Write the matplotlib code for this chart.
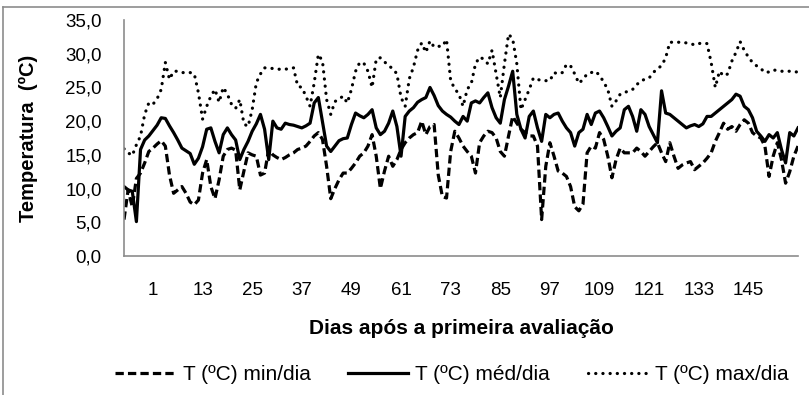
import matplotlib
matplotlib.use("Agg")
import matplotlib.pyplot as plt
from matplotlib.lines import Line2D
from matplotlib.ticker import FuncFormatter

plt.rcParams['font.family'] = ['Liberation Sans', 'DejaVu Sans']

# days after the first evaluation (category axis)
days = list(range(-6, 158))
tick_days = [1, 13, 25, 37, 49, 61, 73, 85, 97, 109, 121, 133, 145]

t_min = [
    5.4, 9.8, 7.3, 11.5, 12.3, 13.8, 15.5, 16.0, 16.6, 17.1,
    16.3, 12.0, 9.3, 9.8, 10.3, 9.3, 8.0, 7.6, 8.3, 12.3,
    14.3, 10.3, 8.5, 11.3, 14.8, 15.8, 16.0, 15.7, 9.8, 12.6,
    15.3, 15.0, 14.8, 12.0, 12.3, 15.8, 15.0, 14.6, 14.3, 14.6,
    15.0, 15.3, 15.8, 16.0, 16.3, 17.0, 17.8, 18.3, 17.3, 13.3,
    8.5, 10.0, 11.3, 12.3, 12.3, 13.0, 13.8, 14.8, 15.3, 16.3,
    18.0, 14.8, 10.0, 12.6, 14.8, 13.3, 14.3, 15.8, 16.8, 17.5,
    18.0, 18.3, 20.0, 18.0, 19.2, 19.5, 12.0, 8.8, 8.6, 15.5,
    18.5, 17.5, 16.3, 15.5, 14.8, 12.3, 16.8, 17.8, 18.5, 18.3,
    17.5, 15.5, 14.8, 17.8, 20.7, 19.7, 18.8, 18.3, 17.8, 17.8,
    16.3, 5.4, 13.3, 16.8, 14.8, 12.6, 12.3, 11.8, 10.3, 7.3,
    6.7, 7.7, 15.3, 16.3, 16.0, 18.3, 17.3, 14.8, 11.6, 14.3,
    16.0, 15.3, 15.3, 15.3, 16.0, 15.5, 14.8, 15.5, 16.2, 16.8,
    15.3, 14.0, 16.8, 14.8, 13.0, 13.5, 13.8, 14.0, 12.8, 13.3,
    13.8, 14.5, 15.3, 17.0, 18.3, 19.7, 18.8, 19.2, 18.5, 19.5,
    20.2, 19.7, 18.3, 17.8, 17.5, 16.3, 11.8, 14.8, 16.8, 14.3,
    10.8, 12.5, 14.8, 16.3,
]

t_med = [
    10.3, 9.8, 9.6, 5.1, 15.8, 17.2, 17.8, 18.6, 19.4, 20.5,
    20.4, 19.3, 18.3, 17.2, 16.0, 15.6, 15.2, 13.6, 14.5, 16.2,
    18.8, 19.0, 17.0, 15.3, 18.0, 19.0, 18.0, 17.2, 14.3, 15.8,
    17.0, 18.5, 19.6, 21.0, 18.8, 14.3, 20.0, 19.0, 18.8, 19.7,
    19.5, 19.4, 19.2, 19.0, 19.3, 19.7, 22.7, 23.5, 19.9, 16.3,
    15.5, 16.3, 17.1, 17.4, 17.5, 19.5, 21.2, 20.8, 20.5, 21.0,
    21.7, 19.0, 18.0, 18.5, 19.7, 21.5, 19.2, 14.8, 20.7, 21.5,
    22.0, 22.8, 23.2, 23.5, 25.0, 23.8, 22.3, 21.5, 21.0, 20.6,
    20.0, 19.5, 20.7, 20.0, 22.7, 23.0, 22.7, 23.5, 24.2, 22.0,
    20.5, 19.7, 23.2, 25.2, 27.4, 21.0, 18.8, 17.5, 20.7, 21.5,
    19.0, 17.0, 21.0, 20.5, 21.0, 21.2, 20.0, 19.0, 18.3, 16.3,
    18.3, 18.8, 21.0, 19.5, 21.2, 21.5, 20.5, 19.2, 17.8, 18.5,
    19.0, 21.7, 22.2, 20.7, 18.5, 21.7, 21.0, 19.2, 18.0, 16.8,
    24.5, 21.2, 21.0, 20.5, 20.0, 19.5, 19.0, 19.3, 19.5, 19.2,
    19.6, 20.7, 20.7, 21.2, 21.7, 22.2, 22.7, 23.2, 24.0, 23.7,
    22.2, 21.7, 20.5, 18.5, 17.8, 17.0, 18.0, 17.5, 18.3, 15.8,
    13.8, 18.3, 17.8, 19.0,
]

t_max = [
    15.9, 15.3, 14.9, 16.5, 17.8, 21.0, 22.7, 22.5, 23.3, 24.7,
    28.7, 26.2, 27.4, 27.4, 27.2, 27.2, 27.2, 27.0, 24.2, 20.3,
    22.2, 23.7, 24.7, 22.8, 25.0, 24.0, 22.5, 21.9, 23.2, 19.6,
    19.2, 21.7, 25.7, 27.0, 27.9, 27.9, 27.8, 27.7, 27.7, 27.7,
    27.8, 27.9, 25.2, 25.0, 23.7, 22.2, 25.7, 29.9, 28.9, 23.2,
    21.0, 22.9, 23.3, 23.7, 22.7, 24.7, 27.4, 28.7, 28.6, 27.4,
    25.0, 29.2, 29.4, 28.8, 28.2, 27.8, 27.0, 23.5, 22.2, 26.3,
    28.0, 30.5, 31.6, 30.2, 31.9, 31.0, 31.1, 31.1, 32.1, 26.0,
    24.8, 24.0, 22.2, 24.7, 25.6, 28.5, 29.5, 29.2, 28.5, 30.5,
    27.0, 23.5, 28.5, 32.9, 32.2, 28.5, 21.7, 23.2, 24.7, 26.4,
    26.2, 26.0, 26.0, 26.0, 27.2, 27.0, 27.2, 28.4, 28.2, 27.0,
    25.6, 26.2, 27.0, 27.2, 27.4, 26.8, 25.8, 24.7, 22.2, 23.0,
    24.0, 24.2, 24.5, 24.7, 25.4, 26.0, 26.2, 26.4, 27.2, 27.8,
    28.2, 29.4, 31.7, 31.7, 31.7, 31.7, 31.6, 31.5, 31.3, 31.5,
    31.6, 31.5, 28.7, 25.0, 27.4, 26.7, 27.0, 28.9, 30.2, 31.8,
    30.5, 29.5, 28.7, 28.2, 27.8, 27.2, 27.3, 27.6, 27.5, 27.4,
    27.4, 27.4, 27.3, 27.3,
]

fig = plt.figure(figsize=(8.09, 3.95), dpi=100)
ax = fig.add_axes([124 / 809, 1 - 256 / 395, 674 / 809, 236 / 395])

lw = 2.3
ax.plot(days, t_min, color='black', lw=lw, linestyle=(0, (2.6, 1.3)),
        label='T (ºC) min/dia')
ax.plot(days, t_med, color='black', lw=lw, label='T (ºC) méd/dia')
ax.plot(days, t_max, color='black', lw=lw, linestyle=(0, (0.05, 2.2)),
        dash_capstyle='round', label='T (ºC) max/dia')

ax.set_xlim(days[0], days[-1])
ax.set_ylim(0, 35)
ax.set_yticks(range(0, 36, 5))
ax.yaxis.set_major_formatter(FuncFormatter(lambda v, p: f"{v:.1f}".replace('.', ',')))
ax.set_xticks(tick_days)
ax.set_xticklabels([str(d) for d in tick_days])
ax.tick_params(axis='both', length=0, labelsize=13.5, colors='black')
ax.tick_params(axis='y', pad=16)
ax.tick_params(axis='x', pad=19)

for side in ['top', 'right']:
    ax.spines[side].set_visible(False)
for side in ['left', 'bottom']:
    ax.spines[side].set_color('#8c8c8c')
    ax.spines[side].set_linewidth(1.2)

ax.set_ylabel('Temperatura  (ºC)', fontsize=14.5, fontweight='bold')
ax.yaxis.set_label_coords(-0.128, 0.5)
ax.set_xlabel('Dias após a primeira avaliação', fontsize=15, fontweight='bold')
ax.xaxis.set_label_coords(0.5, -0.265)

fig.legend(loc='center', bbox_to_anchor=(452 / 809, 1 - 375 / 395), ncol=3,
           frameon=False, fontsize=15, handlelength=2.9, columnspacing=1.8,
           handletextpad=0.34)

# chart area border (left and top edges visible in the crop)
fig.add_artist(Line2D([3 / 809, 3 / 809], [0, 1 - 7 / 395], color='#8c8c8c', lw=1.2))
fig.add_artist(Line2D([3 / 809, 1], [1 - 7 / 395, 1 - 7 / 395], color='#8c8c8c', lw=1.2))

fig.savefig('out.png', dpi=100)
